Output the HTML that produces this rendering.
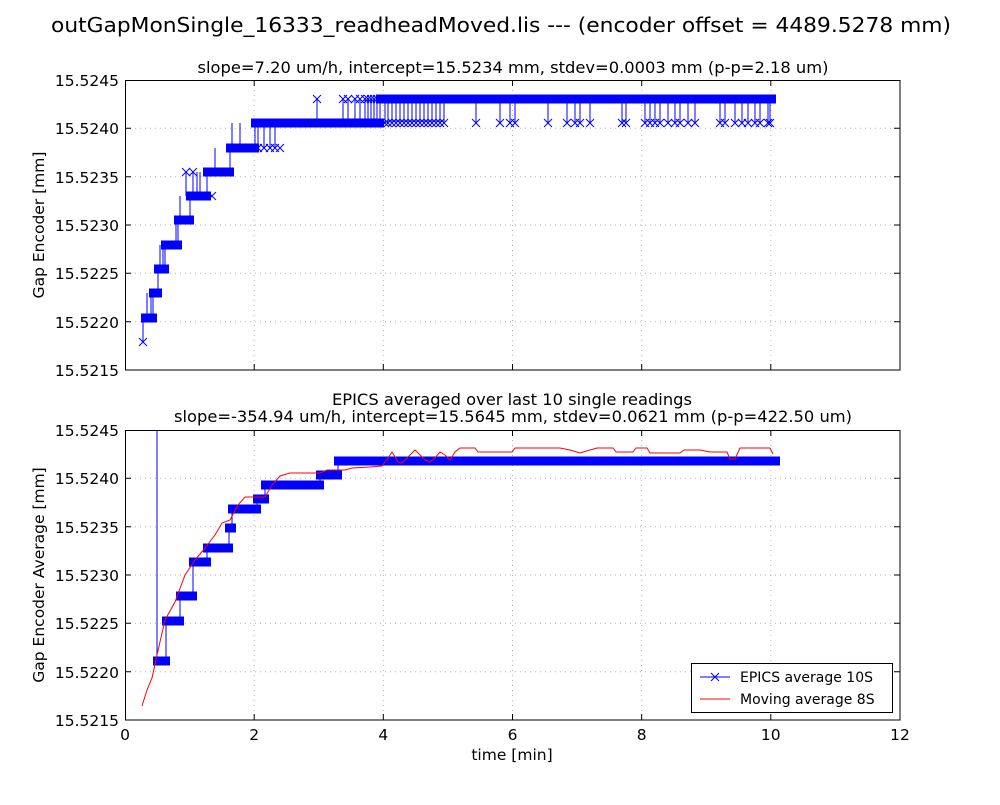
<!DOCTYPE html>
<html><head><meta charset="utf-8"><style>
body{margin:0;background:#fff;}
svg text{font-family:"DejaVu Sans","Liberation Sans",sans-serif;fill:#000;}
</style></head><body>
<svg width="1000" height="800" xmlns="http://www.w3.org/2000/svg">
<defs>
<marker id="x" markerUnits="userSpaceOnUse" markerWidth="10" markerHeight="10" refX="5" refY="5" viewBox="0 0 10 10" overflow="visible">
<path d="M1,1L9,9M9,1L1,9" stroke="#00f" stroke-width="1" fill="none"/>
</marker>
</defs>
<rect width="1000" height="800" fill="#fff"/>
<text x="501" y="32" font-size="20.5" text-anchor="middle" textLength="900" lengthAdjust="spacingAndGlyphs">outGapMonSingle_16333_readheadMoved.lis --- (encoder offset = 4489.5278 mm)</text>
<text x="513" y="73" font-size="16" text-anchor="middle" textLength="631" lengthAdjust="spacingAndGlyphs">slope=7.20 um/h, intercept=15.5234 mm, stdev=0.0003 mm (p-p=2.18 um)</text>
<text x="512" y="405" font-size="16" text-anchor="middle" textLength="360" lengthAdjust="spacingAndGlyphs">EPICS averaged over last 10 single readings</text>
<text x="513" y="422" font-size="16" text-anchor="middle" textLength="678" lengthAdjust="spacingAndGlyphs">slope=-354.94 um/h, intercept=15.5645 mm, stdev=0.0621 mm (p-p=422.50 um)</text>

<path d="M254.2,80V370M383.3,80V370M512.5,80V370M641.7,80V370M770.8,80V370M125,128.3H900M125,176.7H900M125,225H900M125,273.3H900M125,321.7H900
M254.2,430V720M383.3,430V720M512.5,430V720M641.7,430V720M770.8,430V720M125,478.3H900M125,526.7H900M125,575H900M125,623.3H900M125,671.7H900" stroke="#000" stroke-opacity="0.3" stroke-dasharray="1,4" fill="none"/>

<g fill="#00f">
<rect x="141" y="313.5" width="16" height="9"/>
<rect x="149" y="288.5" width="13" height="9"/>
<rect x="154" y="264.5" width="15" height="9"/>
<rect x="161" y="240.5" width="21" height="9"/>
<rect x="174" y="215.5" width="20" height="9"/>
<rect x="186" y="191.5" width="25" height="9"/>
<rect x="203" y="167.5" width="31" height="9"/>
<rect x="226" y="143.5" width="33" height="9"/>
<rect x="251" y="118.5" width="133" height="9"/>
<rect x="376" y="94.5" width="400" height="9"/>
</g>
<path d="M143,342V318H153V293H158V269H165V245H178V220H190V196H207V172H230V148H255V123H380V99H772" stroke="#00f" fill="none"/>
<path d="M147,318V293M151,318V293M160,269V245M163,269V245M176,245V220M180,220V196M186,196V172M193,196V172M197,196V172M200,196V172M215,172V148M232,148V123M240,148V123M258,148V123M264,148V123M270,148V123M275,148V123" stroke="#00f" fill="none"/>
<path d="M143,342M186,172M193,172M200,196M197,196M212,196M258,148M264,148M270,148M275,148M280,148" stroke="none" fill="none" marker-start="url(#x)" marker-mid="url(#x)" marker-end="url(#x)"/>
<path d="M317,123V99M343,123V99M348,123V99M355,123V99M360,123V99M365,123V99M368,123V99M371,123V99M374,123V99M377,123V99" stroke="#00f" fill="none"/>
<path d="M317,99M343,99M348,99M355,99M360,99M365,99M368,99M371,99M374,99M377,99" fill="none" marker-start="url(#x)" marker-mid="url(#x)" marker-end="url(#x)"/>
<path d="M385,99V123M388,99V123M392,99V123M396,99V123M400,99V123M404,99V123M408,99V123M412,99V123M416,99V123M420,99V123M424,99V123M428,99V123M432,99V123M436,99V123M440,99V123M444,99V123M476,99V123M500,99V123M510,99V123M515,99V123M548,99V123M567,99V123M575,99V123M580,99V123M590,99V123M622,99V123M626,99V123M645,99V123M650,99V123M655,99V123M660,99V123M668,99V123M675,99V123M680,99V123M688,99V123M695,99V123M720,99V123M725,99V123M735,99V123M742,99V123M748,99V123M755,99V123M760,99V123M768,99V123M770,99V123" stroke="#00f" fill="none"/>
<path d="M385,123M388,123M392,123M396,123M400,123M404,123M408,123M412,123M416,123M420,123M424,123M428,123M432,123M436,123M440,123M444,123M476,123M500,123M510,123M515,123M548,123M567,123M575,123M580,123M590,123M622,123M626,123M645,123M650,123M655,123M660,123M668,123M675,123M680,123M688,123M695,123M720,123M725,123M735,123M742,123M748,123M755,123M760,123M768,123M770,123" fill="none" marker-start="url(#x)" marker-mid="url(#x)" marker-end="url(#x)"/>

<g fill="#00f">
<rect x="153" y="656.5" width="17" height="9"/>
<rect x="162" y="616.5" width="22" height="9"/>
<rect x="176" y="591.5" width="21" height="9"/>
<rect x="189" y="557.5" width="22" height="9"/>
<rect x="203" y="543.5" width="30" height="9"/>
<rect x="225" y="523.5" width="11" height="9"/>
<rect x="228" y="504.5" width="33" height="9"/>
<rect x="253" y="494.5" width="16" height="9"/>
<rect x="261" y="480.5" width="63" height="9"/>
<rect x="316" y="470.5" width="26" height="9"/>
<rect x="334" y="456.5" width="446" height="9"/>
</g>
<path d="M157,430V661H166V621H180V596H193V562H207V548H229V528H232V509H257V499H265V485H320V475H338V461H776" stroke="#00f" fill="none"/>

<path d="M142,706L147,690L152,678L157,655L165,620L175,602L185,575L195,560L205,548L215,535L222,523L230,520L238,505L245,497L265,497L272,485L280,476L290,473L320,473L327,470L345,470L352,468L370,467L382,466L388,458L392,452L398,462L402,463L410,455L415,450L420,455L425,460L430,462L435,458L440,452L445,455L450,460L455,452L460,448L475,448L478,452L512,452L515,448L530,448L545,448L560,448L570,450L580,453L590,450L597,448L613,448L616,452L633,452L636,448L647,448L650,453L680,453L684,450L700,450L710,452L727,452L730,459L735,459L740,448L770,448L773,454" stroke="#f00" fill="none"/>

<g stroke="#000" fill="none">
<rect x="125.5" y="80.5" width="774.5" height="289.5"/>
<rect x="125.5" y="430.5" width="774.5" height="289.5"/>
<path d="M125,128.3h6M125,176.7h6M125,225h6M125,273.3h6M125,321.7h6M900,128.3h-6M900,176.7h-6M900,225h-6M900,273.3h-6M900,321.7h-6
M125,478.3h6M125,526.7h6M125,575h6M125,623.3h6M125,671.7h6M900,478.3h-6M900,526.7h-6M900,575h-6M900,623.3h-6M900,671.7h-6
M254.2,80v6M383.3,80v6M512.5,80v6M641.7,80v6M770.8,80v6M254.2,370v-6M383.3,370v-6M512.5,370v-6M641.7,370v-6M770.8,370v-6
M254.2,430v6M383.3,430v6M512.5,430v6M641.7,430v6M770.8,430v6M254.2,720v-6M383.3,720v-6M512.5,720v-6M641.7,720v-6M770.8,720v-6"/>
</g>

<g font-size="15.5" text-anchor="end">
<text x="119" y="86">15.5245</text><text x="119" y="134">15.5240</text><text x="119" y="183">15.5235</text><text x="119" y="231">15.5230</text><text x="119" y="279">15.5225</text><text x="119" y="328">15.5220</text><text x="119" y="376">15.5215</text>
<text x="119" y="436">15.5245</text><text x="119" y="484">15.5240</text><text x="119" y="533">15.5235</text><text x="119" y="581">15.5230</text><text x="119" y="629">15.5225</text><text x="119" y="678">15.5220</text><text x="119" y="726">15.5215</text>
</g>
<g font-size="15.5" text-anchor="middle">
<text x="125" y="740">0</text><text x="254.2" y="740">2</text><text x="383.3" y="740">4</text><text x="512.5" y="740">6</text><text x="641.7" y="740">8</text><text x="770.8" y="740">10</text><text x="900" y="740">12</text>
</g>
<text x="512" y="760" font-size="15.5" text-anchor="middle">time [min]</text>
<text transform="translate(44,225) rotate(-90)" font-size="15.5" text-anchor="middle">Gap Encoder [mm]</text>
<text transform="translate(44,575) rotate(-90)" font-size="15.5" text-anchor="middle">Gap Encoder Average [mm]</text>

<rect x="691.5" y="663.5" width="201" height="49" fill="#fff" stroke="#000"/>
<line x1="700" y1="677" x2="730" y2="677" stroke="#00f"/>
<path d="M711,673l8,8M719,673l-8,8" stroke="#00f"/>
<line x1="700" y1="699" x2="730" y2="699" stroke="#f00"/>
<text x="740" y="682" font-size="14">EPICS average 10S</text>
<text x="740" y="704" font-size="14">Moving average 8S</text>
</svg>
</body></html>
